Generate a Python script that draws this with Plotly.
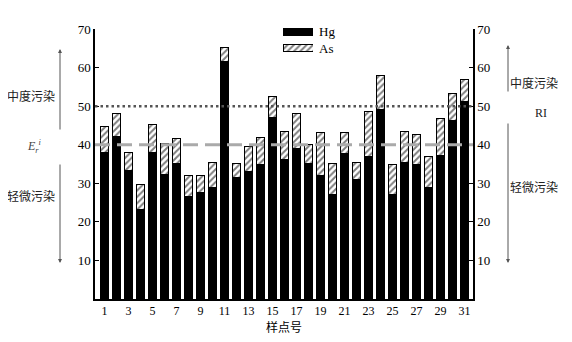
import plotly.graph_objects as go

samples = list(range(1, 32))
hg = [38.0, 42.2, 33.4, 23.3, 38.1, 32.3, 35.1, 26.6, 27.5, 28.8, 61.7, 31.6, 33.0, 34.8, 47.1, 36.2,
      38.9, 35.1, 32.1, 27.0, 37.8, 30.9, 37.0, 49.2, 27.0, 35.5, 34.8, 29.0, 37.2, 46.4, 51.2]
as_ = [6.6, 5.9, 4.7, 6.3, 7.1, 8.0, 6.5, 5.5, 4.4, 6.6, 3.5, 3.5, 6.6, 7.2, 5.3, 7.2,
       9.2, 4.9, 11.0, 8.1, 5.3, 4.4, 11.6, 8.8, 8.0, 7.9, 7.9, 7.9, 9.6, 6.9, 5.7]
series_names = ["Hg", "As"]
xticks = list(range(1, 32, 2))
yticks = [10, 20, 30, 40, 50, 60, 70]
ref_er = 40
ref_ri = 50

SERIF = "Liberation Serif, Times New Roman, Noto Sans CJK SC, serif"
CJK = "Noto Sans CJK SC, sans-serif"

# page body has an 8px margin, so the figure is offset by 8px on screen
OFF = 8
W, H = 572, 342
PL, PT, PR, PB = 95, 18, 473, 299          # layout area in screen pixels
AX_TOP = 29                                 # top of the value axes (70) on screen
L, T = PL - OFF, PT - OFF
R, B = W - (PR - OFF), H - (PB - OFF)
PW, PH = PR - PL, PB - PT

def px(x):
    return (x - PL) / PW

def py(y):
    return (PB - y) / PH

HG_MARKER = dict(color="black", line=dict(color="black", width=1))
AS_MARKER = dict(color="white", line=dict(color="black", width=1),
                 pattern=dict(shape="/", fgcolor="black", bgcolor="white", size=4.5, solidity=0.45))

fig = go.Figure()
fig.add_trace(go.Bar(x=samples, y=hg, name=series_names[0], marker=HG_MARKER, showlegend=False))
fig.add_trace(go.Bar(x=samples, y=as_, name=series_names[1], marker=AS_MARKER, showlegend=False))
fig.add_trace(go.Scatter(x=[1], y=[ref_er], yaxis="y2", mode="markers",
                         marker=dict(opacity=0), showlegend=False, hoverinfo="skip"))

# legend keys (wide swatches, as in the reference)
fig.add_trace(go.Bar(y=[series_names[0]], x=[1], orientation="h", xaxis="x3", yaxis="y3",
                     marker=HG_MARKER, width=0.45, showlegend=False, hoverinfo="skip"))
fig.add_trace(go.Bar(y=[series_names[1]], x=[1], orientation="h", xaxis="x3", yaxis="y3",
                     marker=AS_MARKER, width=0.45, showlegend=False, hoverinfo="skip"))

fig.add_shape(type="line", xref="x domain", yref="y", x0=0, x1=1, y0=ref_ri, y1=ref_ri,
              line=dict(color="#555555", width=2.5, dash="2.5px,3px"), layer="above")
fig.add_shape(type="line", xref="x domain", yref="y", x0=0, x1=1, y0=ref_er, y1=ref_er,
              line=dict(color="#aaaaaa", width=3, dash="15px,7px"), layer="above")

ann = []
def arrow(xp, yhead, ytail):
    ann.append(dict(xref="paper", yref="paper", x=px(xp), y=py(yhead), ax=0, ay=ytail - yhead,
                    axref="pixel", ayref="pixel", showarrow=True, arrowhead=2, arrowsize=0.8,
                    arrowwidth=1, arrowcolor="#555555", text=""))

def label(xp, yp, text, font=CJK, size=12, color="#222222", anchor="center"):
    ann.append(dict(xref="paper", yref="paper", x=px(xp), y=py(yp), text=text, showarrow=False,
                    xanchor=anchor, yanchor="middle", font=dict(family=font, size=size, color=color)))

arrow(60, 49, 131)
arrow(60, 263, 163)
arrow(508, 45, 93)
arrow(508, 263, 122)
label(31, 95, "中度污染")
label(31, 195, "轻微污染")
label(34, 146, "<i>E</i><sub><i>r</i></sub><sup><i>i</i></sup>", font=SERIF, size=12, color="#444444")
label(534, 82, "中度污染")
label(541, 113, "RI", font=SERIF, size=12)
label(534, 186, "轻微污染")
label(317, 32, series_names[0], font=SERIF, size=13, color="black", anchor="left")
label(317, 48, series_names[1], font=SERIF, size=13, color="black", anchor="left")

fig.update_layout(
    width=W, height=H,
    margin=dict(l=L, r=R, t=T, b=B, pad=0, autoexpand=False),
    paper_bgcolor="white", plot_bgcolor="white",
    barmode="stack", bargap=0.35,
    font=dict(family=SERIF, size=12, color="black"),
    showlegend=False,
    xaxis=dict(range=[0.2, 31.7], tickvals=xticks, ticktext=[str(v) for v in xticks],
               showline=True, linecolor="black", linewidth=1.5, ticks="", showgrid=False,
               zeroline=False, tickfont=dict(family=SERIF, size=12),
               title=dict(text="样点号", font=dict(family=CJK, size=12), standoff=2)),
    yaxis=dict(range=[0, 70], tickvals=yticks, domain=[0, py(AX_TOP)], showline=True,
               linecolor="black", linewidth=1.5, ticks="inside", ticklen=4, tickcolor="black",
               showgrid=False, zeroline=False, tickfont=dict(family=SERIF, size=13)),
    yaxis2=dict(range=[0, 70], tickvals=yticks, domain=[0, py(AX_TOP)], overlaying="y",
                side="right", showline=True, linecolor="black", linewidth=1.5, ticks="inside",
                ticklen=4, tickcolor="black", showgrid=False, zeroline=False,
                tickfont=dict(family=SERIF, size=13)),
    xaxis3=dict(domain=[px(283), px(313)], range=[0, 1], anchor="y3", visible=False, fixedrange=True),
    yaxis3=dict(domain=[py(56), py(24)], range=[1.5, -0.5], anchor="x3", visible=False,
                type="category", fixedrange=True),
    annotations=ann,
)

fig.write_html("out.html")
